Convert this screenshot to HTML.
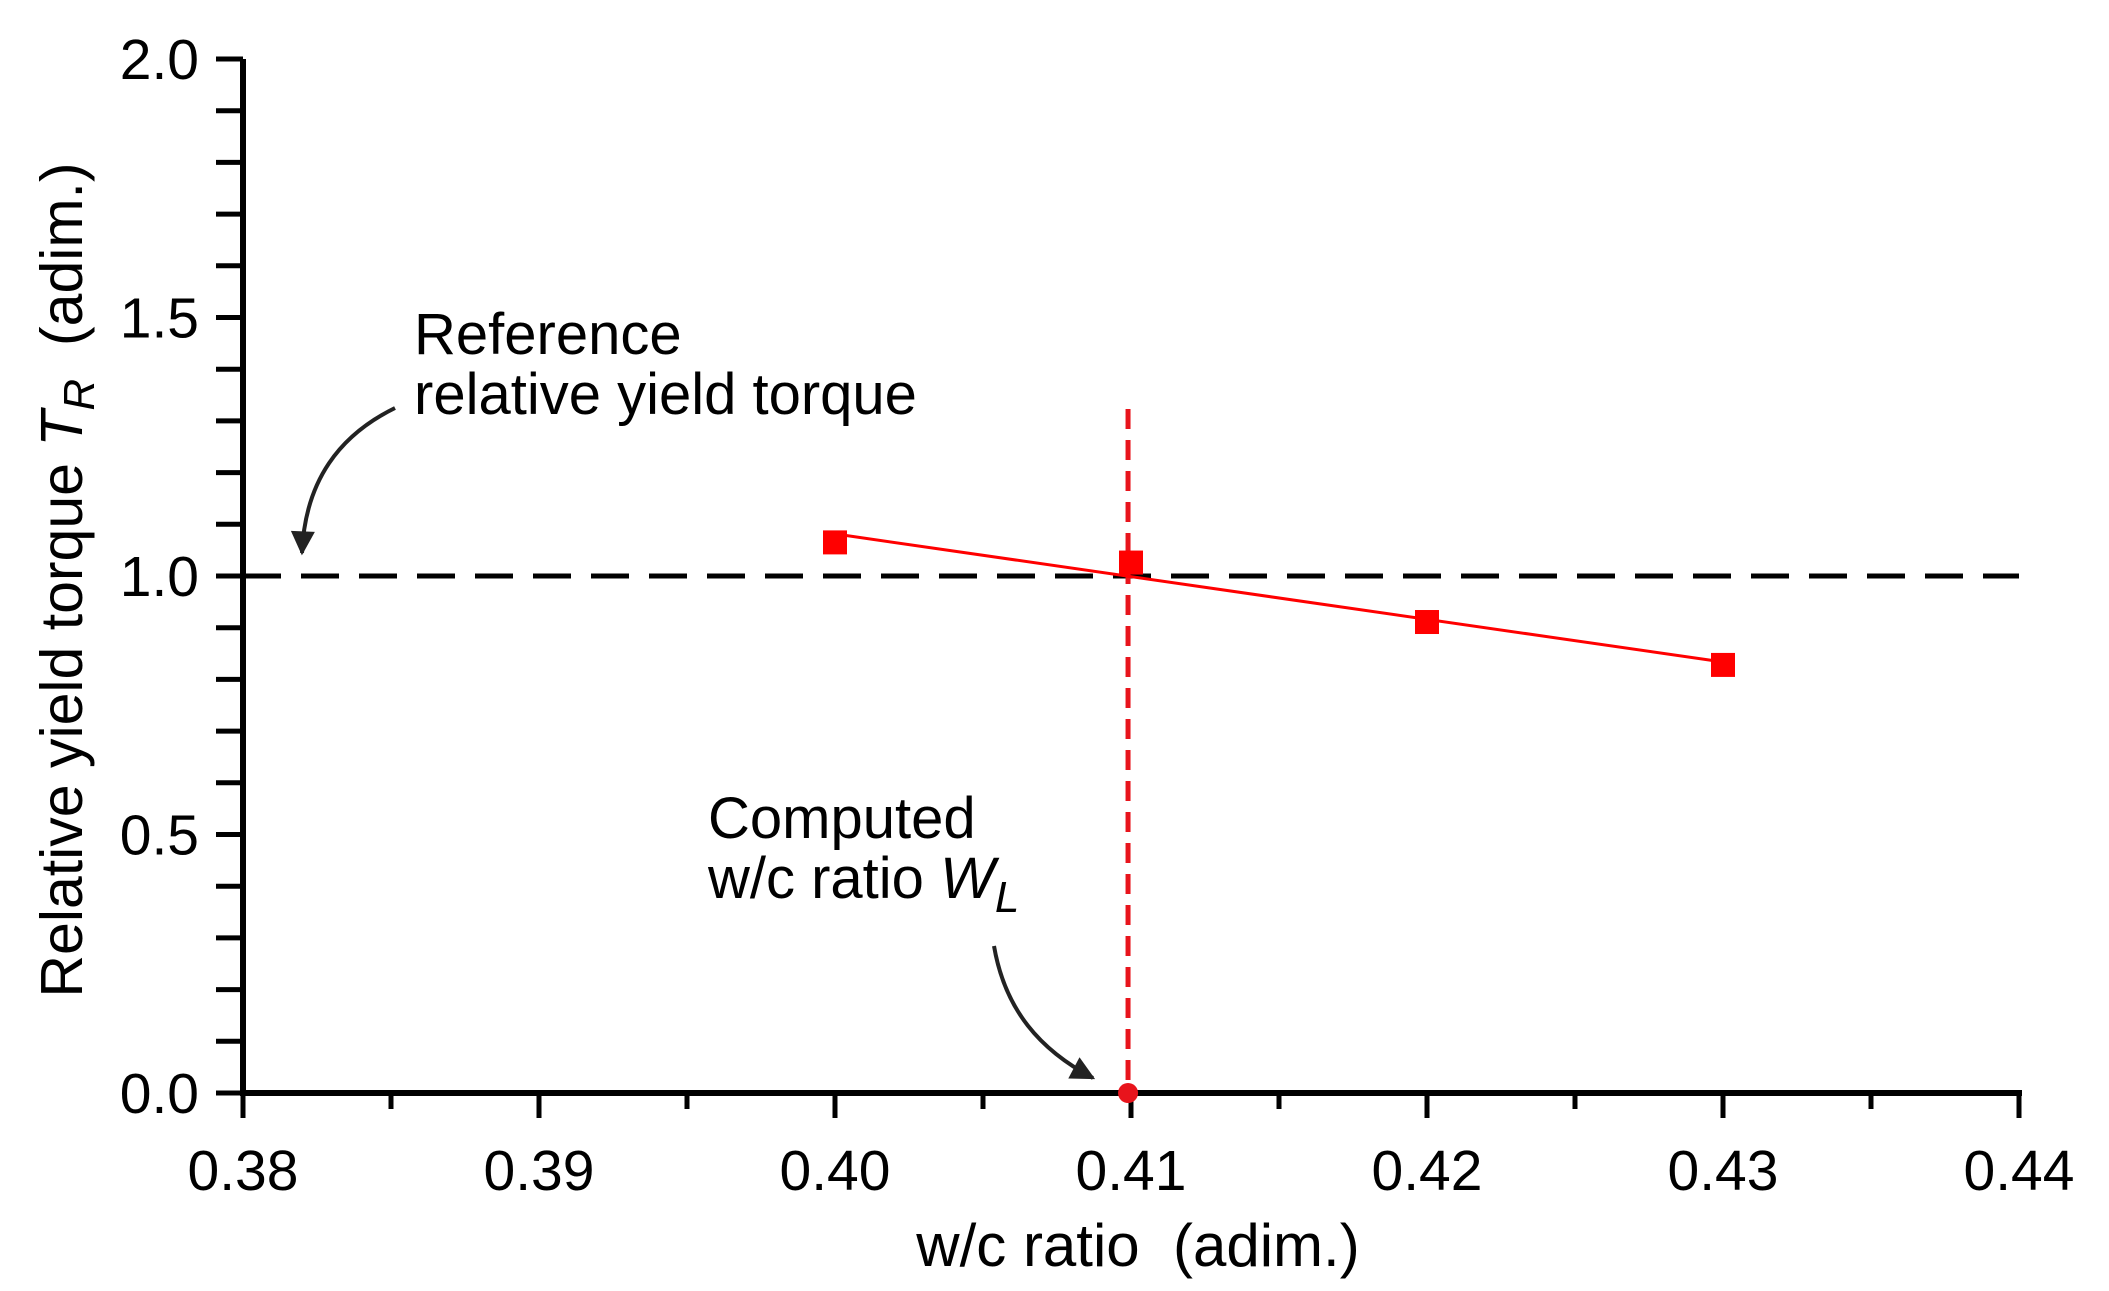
<!DOCTYPE html>
<html><head><meta charset="utf-8"><style>body{margin:0;background:#fff}svg{display:block}text{font-family:"Liberation Sans",Arial,sans-serif;fill:#000}</style></head>
<body>
<svg id="chart" width="2109" height="1291" viewBox="0 0 2109 1291" xmlns="http://www.w3.org/2000/svg">
<defs><marker id="ah" viewBox="0 0 10 10" refX="9" refY="5" markerWidth="7" markerHeight="6" orient="auto" markerUnits="userSpaceOnUse"><path d="M0,0 L10,5 L0,10 z" fill="#222"/></marker>
<marker id="ah2" viewBox="0 0 10 10" refX="9" refY="5" markerWidth="30" markerHeight="24" orient="auto" markerUnits="userSpaceOnUse"><path d="M0,0 L10,5 L0,10 z" fill="#222"/></marker></defs>
<g id="axes"></g>
<g id="marks"></g>
<text x="1138" y="1266" font-size="60" text-anchor="middle" xml:space="preserve">w/c ratio  (adim.)</text>
<text transform="translate(82,580) rotate(-90)" font-size="59" text-anchor="middle" xml:space="preserve">Relative yield torque <tspan font-style="italic">T</tspan><tspan font-style="italic" font-size="44" dy="12">R</tspan><tspan dy="-12">  (adim.)</tspan></text>
<text font-size="58"><tspan x="414" y="354">Reference</tspan><tspan x="414" y="414">relative yield torque</tspan></text>
<text font-size="58"><tspan x="708" y="838">Computed</tspan><tspan x="708" y="898">w/c ratio <tspan font-style="italic">W</tspan><tspan font-style="italic" font-size="44" dy="14">L</tspan></tspan></text>
<path d="M395,408 C340,435 305,480 302,553" stroke="#222" stroke-width="4" fill="none" marker-end="url(#ah2)"/>
<path d="M994,946 C1005,1010 1040,1050 1093,1078" stroke="#222" stroke-width="4" fill="none" marker-end="url(#ah2)"/>
</svg>
<script>
const xTicks=[0.38,0.39,0.40,0.41,0.42,0.43,0.44];
const xTickLabels=["0.38","0.39","0.40","0.41","0.42","0.43","0.44"];
const yTicks=[0,0.5,1.0,1.5,2.0];
const yTickLabels=["0.0","0.5","1.0","1.5","2.0"];
const wcRatio=[0.40,0.41,0.42,0.43];
const relTorque=[1.065,1.026,0.911,0.828];
const referenceTorque=1.0;
const computedWL=0.4099;
const computedLineTop=1.323;
const X0=243,X1=2019,Y0=1093,Y1=59;
const xs=v=>X0+(v-0.38)/(0.44-0.38)*(X1-X0);
const ys=v=>Y0-(v/2)*(Y0-Y1);
const NS="http://www.w3.org/2000/svg";
function mk(p,t,a){const e=document.createElementNS(NS,t);for(const k in a)e.setAttribute(k,a[k]);p.appendChild(e);return e;}
const ax=document.getElementById('axes'),mg=document.getElementById('marks');
let e;
e=mk(ax,'line',{x1:X0,y1:Y1,x2:X0,y2:Y0+3,stroke:'#000','stroke-width':6});

e=mk(ax,'line',{x1:X0-3,y1:Y0,x2:X1+3,y2:Y0,stroke:'#000','stroke-width':6});

for(let i=0;i<=20;i++){const y=ys(i*0.1);
e=mk(ax,'line',{x1:X0-27,y1:y,x2:X0,y2:y,stroke:'#000','stroke-width':5});
}
yTicks.forEach((v,i)=>{e=mk(ax,'text',{x:199,y:ys(v)+20,'font-size':57,'text-anchor':'end'});e.textContent=yTickLabels[i];
});
for(let i=0;i<=12;i++){const v=0.38+i*0.005,x=xs(v),maj=i%2==0;
e=mk(ax,'line',{x1:x,y1:Y0,x2:x,y2:Y0+(maj?25:16),stroke:'#000','stroke-width':5});
}
xTicks.forEach((v,i)=>{e=mk(ax,'text',{x:xs(v),y:1190,'font-size':57,'text-anchor':'middle'});e.textContent=xTickLabels[i];
});
e=mk(mg,'line',{x1:X0,y1:ys(referenceTorque),x2:X1,y2:ys(referenceTorque),stroke:'#000','stroke-width':5,'stroke-dasharray':'38 20'});

e=mk(mg,'line',{x1:xs(computedWL),y1:ys(computedLineTop),x2:xs(computedWL),y2:Y0,stroke:'#e8141c','stroke-width':5,'stroke-dasharray':'20 11'});

// least-squares fit line
const n=wcRatio.length,mx=wcRatio.reduce((a,b)=>a+b)/n,my=relTorque.reduce((a,b)=>a+b)/n;
let sxy=0,sxx=0;wcRatio.forEach((v,i)=>{sxy+=(v-mx)*(relTorque[i]-my);sxx+=(v-mx)*(v-mx);});
const slope=sxy/sxx,fit=v=>my+slope*(v-mx);
const xa=wcRatio[0],xb=wcRatio[n-1];
e=mk(mg,'line',{x1:xs(xa),y1:ys(fit(xa)),x2:xs(xb),y2:ys(fit(xb)),stroke:'#ff0000','stroke-width':3});

wcRatio.forEach((v,i)=>{e=mk(mg,'rect',{x:xs(v)-12,y:ys(relTorque[i])-12,width:24,height:24,fill:'#ff0000'});
});
e=mk(mg,'circle',{cx:xs(computedWL),cy:Y0,r:10,fill:'#e8141c'});

</script>
</body></html>
